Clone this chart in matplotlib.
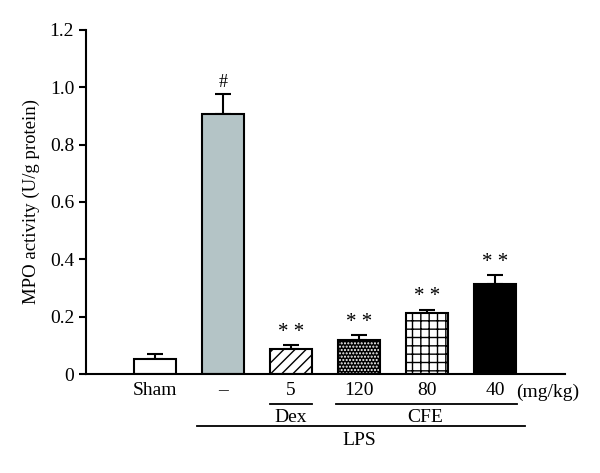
import matplotlib.pyplot as plt
import matplotlib.transforms as mtransforms

plt.rcParams['font.family'] = ['Liberation Serif', 'DejaVu Serif']

groups = ['Sham', '\u2013', '5', '120', '80', '40']
values = [0.052, 0.907, 0.087, 0.119, 0.213, 0.314]
errors = [0.018, 0.068, 0.013, 0.016, 0.011, 0.031]
marks = ['', '#', '* *', '* *', '* *', '* *']
y_ticks = [0, 0.2, 0.4, 0.6, 0.8, 1.0, 1.2]
y_labels = ['0', '0.2', '0.4', '0.6', '0.8', '1.0', '1.2']

fig = plt.figure(figsize=(6, 4.73), dpi=100)
ax = fig.add_axes([0.1433, 0.2093, 0.7984, 0.7273])

x = list(range(len(groups)))
w = 0.62
faces = ['white', '#b4c4c6', 'white', 'black', 'white', 'black']
hatches = [None, None, '///', None, '++', None]

for i in x:
    if i == 3:
        # black bar with white dots
        ax.bar(i, values[i], w, color='black', edgecolor='white', hatch='.....', linewidth=0, zorder=2)
        ax.bar(i, values[i], w, fill=False, edgecolor='black', linewidth=1.5, zorder=3)
    else:
        ax.bar(i, values[i], w, color=faces[i], edgecolor='black', hatch=hatches[i], linewidth=1.5, zorder=2)

ax.errorbar(x, values, yerr=[[0] * len(x), errors], fmt='none', ecolor='black',
            elinewidth=1.5, capsize=5.5, capthick=1.5, zorder=1)

for i in x:
    if marks[i]:
        ax.text(i, values[i] + errors[i] + 0.012, marks[i], ha='center', va='bottom',
                fontsize=13 if marks[i] == '#' else 15)

ax.set_xlim(-1.015, 6.03)
ax.set_ylim(0, 1.2)
ax.set_yticks(y_ticks, y_labels, fontsize=14)
ax.set_xticks(x, groups, fontsize=14)
ax.tick_params(axis='x', length=0, pad=6)
ax.tick_params(axis='y', direction='out', length=5, width=1.5)
ax.set_ylabel('MPO activity (U/g protein)', fontsize=13.5, labelpad=7)

for s in ['top', 'right']:
    ax.spines[s].set_visible(False)
for s in ['left', 'bottom']:
    ax.spines[s].set_linewidth(1.5)

trans = mtransforms.blended_transform_factory(ax.transData, ax.transAxes)
ax.text(5.78, -0.052, '(mg/kg)', transform=trans, ha='center', va='center', fontsize=14, clip_on=False)

# group lines under the tick labels
ax.plot([2 - w / 2, 2 + w / 2], [-0.087, -0.087], color='black', lw=1.3, transform=trans, clip_on=False)
ax.text(2, -0.125, 'Dex', transform=trans, ha='center', va='center', fontsize=14)
ax.plot([3 - 0.34, 5 + 0.32], [-0.087, -0.087], color='black', lw=1.3, transform=trans, clip_on=False)
ax.text(3.98, -0.125, 'CFE', transform=trans, ha='center', va='center', fontsize=14)
ax.plot([1 - 0.38, 5.44], [-0.151, -0.151], color='black', lw=1.3, transform=trans, clip_on=False)
ax.text(3.0, -0.192, 'LPS', transform=trans, ha='center', va='center', fontsize=14)

fig.savefig('out.png', dpi=100)
